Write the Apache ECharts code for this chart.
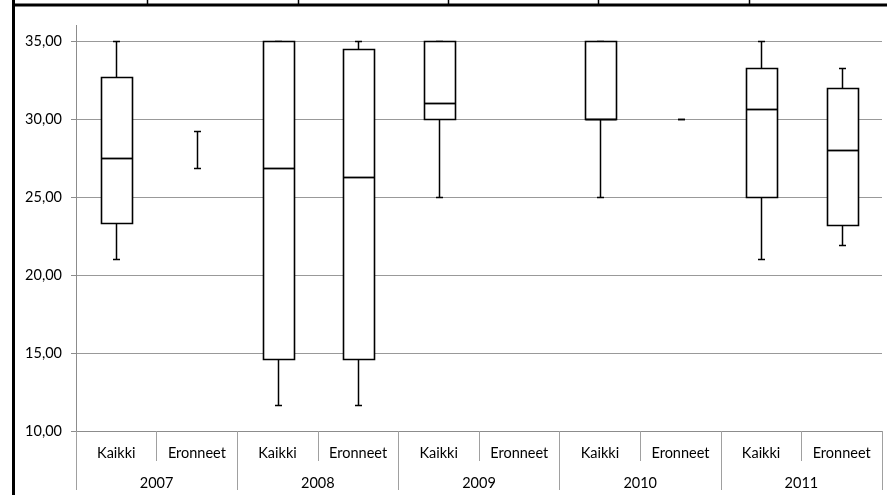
<!DOCTYPE html>
<html>
<head>
<meta charset="utf-8">
<script src="https://cdn.jsdelivr.net/npm/echarts@6/dist/echarts.min.js"></script>
<style>
html,body{margin:0;padding:0;background:#fff;}
#chart{width:887px;height:495px;}
</style>
</head>
<body>
<div id="chart"></div>
<script>
// Categories
const groups = ['Kaikki','Eronneet','Kaikki','Eronneet','Kaikki','Eronneet','Kaikki','Eronneet','Kaikki','Eronneet'];
const years = ['2007','2008','2009','2010','2011'];
const yTicks = [10, 15, 20, 25, 30, 35];

// Box plot statistics per category (null = not present)
const minVals = [21.0, 26.89, 11.69, 11.69, 25, null, 25, 30, 21.0, 21.93];
const q1Vals  = [23.36, null, 14.62, 14.62, 30, null, 30, null, 25, 23.22];
const medVals = [27.5, null, 26.89, 26.3, 31.04, null, 30, null, 30.64, 28.03];
const q3Vals  = [32.67, null, 35, 34.49, 35, null, 35, null, 33.27, 32.0];
const maxVals = [35, 29.23, 35, 35, 35, null, 35, 30, 35, 33.27];

const seriesData = groups.map((g, i) => [i, minVals[i], q1Vals[i], medVals[i], q3Vals[i], maxVals[i]]);

const FONT = 'Lato';
const chart = echarts.init(document.getElementById('chart'), null, {renderer: 'canvas'});

function renderItem(params, api) {
  const idx = api.value(0);
  const row = seriesData[params.dataIndex];
  const [mn, q1, md, q3, mx] = [row[1], row[2], row[3], row[4], row[5]];
  const cw = api.size([1, 0])[0];
  const bw = cw * 0.39;
  const capW = 7;
  const cx = Math.round(api.coord([idx, 0])[0]) + 0.5;
  const Y = val => Math.round(api.coord([idx, val])[1]) + 0.5;
  const children = [];
  const lineStyle = {stroke: '#000', lineWidth: 1.5};
  if (mn != null && mx != null) {
    if (q1 != null) {
      children.push({type:'line', shape:{x1:cx, y1:Y(mn), x2:cx, y2:Y(q1)}, style: lineStyle});
      children.push({type:'line', shape:{x1:cx, y1:Y(q3), x2:cx, y2:Y(mx)}, style: lineStyle});
    } else {
      children.push({type:'line', shape:{x1:cx, y1:Y(mn), x2:cx, y2:Y(mx)}, style: lineStyle});
    }
    children.push({type:'line', shape:{x1:cx-capW/2, y1:Y(mn), x2:cx+capW/2, y2:Y(mn)}, style: lineStyle});
    children.push({type:'line', shape:{x1:cx-capW/2, y1:Y(mx), x2:cx+capW/2, y2:Y(mx)}, style: lineStyle});
  }
  if (q1 != null && q3 != null) {
    const x0 = Math.round(cx - bw/2) + 0.5;
    const x1 = Math.round(cx + bw/2) + 0.5;
    children.push({type:'rect', shape:{x:x0, y:Y(q3), width:x1-x0, height:Y(q1)-Y(q3)},
      style:{fill:'#fff', stroke:'#000', lineWidth:1.6}});
    if (md != null) {
      children.push({type:'line', shape:{x1:x0, y1:Y(md), x2:x1, y2:Y(md)}, style:{stroke:'#000', lineWidth:1.8}});
    }
  }
  return {type:'group', children};
}

const option = {
  animation: false,
  backgroundColor: '#fff',
  grid: {left: 76, right: 5, top: 41, bottom: 64, containLabel: false},
  xAxis: [
    {
      type: 'category', data: groups, position: 'bottom',
      boundaryGap: true,
      axisLine: {show: true, lineStyle: {color: '#8c8c8c', width: 1}},
      axisTick: {show: true, interval: 0, length: 30, lineStyle: {color: '#a0a0a0', width: 1}},
      axisLabel: {interval: 0, margin: 15, fontFamily: FONT, fontSize: 14.5, color: '#000'},
      splitLine: {show: false}
    },
    {
      type: 'category', data: years, position: 'bottom',
      boundaryGap: true,
      axisLine: {show: false},
      axisTick: {show: true, interval: 0, length: 59, lineStyle: {color: '#a0a0a0', width: 1}},
      axisLabel: {interval: 0, margin: 45, fontFamily: FONT, fontSize: 14.5, color: '#000'},
      splitLine: {show: false}
    }
  ],
  yAxis: {
    type: 'value', min: yTicks[0], max: yTicks[yTicks.length-1], interval: 5,
    axisLine: {show: true, lineStyle: {color: '#8c8c8c', width: 1}},
    axisTick: {show: true, length: 5, lineStyle: {color: '#8c8c8c'}},
    axisLabel: {margin: 14, fontFamily: FONT, fontSize: 14.5, color: '#000',
      formatter: v => v.toFixed(2).replace('.', ',')},
    splitLine: {show: true, lineStyle: {color: '#999999', width: 1}}
  },
  series: [{
    type: 'custom',
    xAxisIndex: 0,
    renderItem: renderItem,
    encode: {x: 0, y: [1, 2, 3, 4, 5]},
    data: seriesData,
    z: 10
  }],
  graphic: [
    {type:'line', shape:{x1:12, y1:5, x2:887, y2:5}, style:{stroke:'#000', lineWidth:3}, silent:true},
    {type:'line', shape:{x1:13.5, y1:0, x2:13.5, y2:495}, style:{stroke:'#000', lineWidth:3}, silent:true},
    {type:'line', shape:{x1:147.5, y1:0, x2:147.5, y2:5}, style:{stroke:'#000', lineWidth:1.5}, silent:true},
    {type:'line', shape:{x1:298.5, y1:0, x2:298.5, y2:5}, style:{stroke:'#000', lineWidth:1.5}, silent:true},
    {type:'line', shape:{x1:448.5, y1:0, x2:448.5, y2:5}, style:{stroke:'#000', lineWidth:1.5}, silent:true},
    {type:'line', shape:{x1:598.5, y1:0, x2:598.5, y2:5}, style:{stroke:'#000', lineWidth:1.5}, silent:true},
    {type:'line', shape:{x1:749.5, y1:0, x2:749.5, y2:5}, style:{stroke:'#000', lineWidth:1.5}, silent:true},
    {type:'line', shape:{x1:76.5, y1:25, x2:76.5, y2:41}, style:{stroke:'#8c8c8c', lineWidth:1}, silent:true}
  ]
};
chart.setOption(option);
</script>
</body>
</html>
